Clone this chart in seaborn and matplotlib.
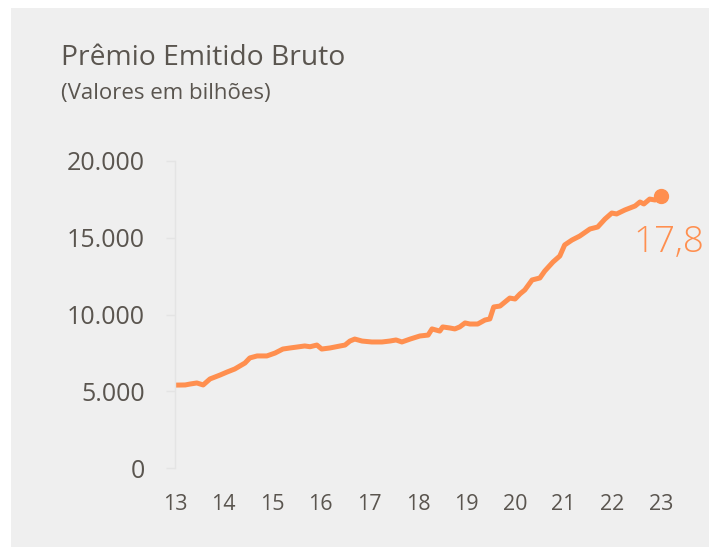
import numpy as np
import pandas as pd
import matplotlib
matplotlib.use("Agg")
import matplotlib.pyplot as plt
import seaborn as sns
from matplotlib.patches import Rectangle

# Datos (año decimal y valor)
anos = [13.00, 13.21, 13.31, 13.45, 13.58, 13.72, 13.93, 14.07, 14.23, 14.44,
        14.54, 14.69, 14.89, 15.06, 15.22, 15.37, 15.51, 15.67, 15.78, 15.92,
        16.02, 16.19, 16.40, 16.50, 16.60, 16.70, 16.85, 17.05, 17.26, 17.42,
        17.55, 17.67, 17.84, 18.04, 18.21, 18.29, 18.45, 18.51, 18.66, 18.76,
        18.86, 18.97, 19.07, 19.23, 19.38, 19.48, 19.56, 19.69, 19.89, 20.00,
        20.10, 20.20, 20.35, 20.51, 20.61, 20.78, 20.92, 21.02, 21.17, 21.33,
        21.54, 21.70, 21.85, 21.99, 22.09, 22.26, 22.47, 22.57, 22.65, 22.77,
        22.88, 23.00]
valores = [5400, 5410, 5470, 5540, 5410, 5800, 6060, 6250, 6450, 6840,
           7170, 7300, 7300, 7490, 7750, 7820, 7880, 7950, 7900, 8010,
           7750, 7820, 7950, 8010, 8270, 8400, 8270, 8210, 8210, 8270,
           8340, 8210, 8400, 8600, 8660, 9060, 8920, 9190, 9120, 9060,
           9190, 9450, 9380, 9380, 9640, 9710, 10490, 10550, 11070, 11010,
           11340, 11600, 12250, 12380, 12830, 13420, 13810, 14530, 14850, 15110,
           15570, 15700, 16220, 16610, 16550, 16810, 17070, 17330, 17200, 17520,
           17460, 17720]
ticks_x = [13, 14, 15, 16, 17, 18, 19, 20, 21, 22, 23]
ticks_y = [0, 5000, 10000, 15000, 20000]
etiquetas_y = ["0", "5.000", "10.000", "15.000", "20.000"]

df = pd.DataFrame({"ano": anos, "valor": valores})

naranja = "#ff8f4f"
gris_texto = "#5a554f"
fondo = "#efefef"

sns.set_style("white")
plt.rcParams["font.family"] = ["Open Sans", "DejaVu Sans"]

fig = plt.figure(figsize=(7.09, 5.47), dpi=100)
fig.patch.set_facecolor("white")
fig.patches.append(Rectangle((11 / 709, 0), 1, (547 - 8) / 547,
                             transform=fig.transFigure, facecolor=fondo,
                             edgecolor="none", zorder=-5))

ax = fig.add_axes([175 / 709, 79 / 547, 515 / 709, 307 / 547])
ax.set_facecolor("none")
ax.set_zorder(2)

sns.lineplot(data=df, x="ano", y="valor", color=naranja, linewidth=3.6, ax=ax,
             solid_joinstyle="round", solid_capstyle="round")
ax.plot(anos[-1], valores[-1], "o", color=naranja, markersize=10, clip_on=False)
ax.text(23.16, valores[-1] - 1800, "17,8", color=naranja, fontsize=26.5,
        fontweight="light", ha="center", va="top")

ax.set_xlim(13, 23.6)
ax.set_ylim(0, 20000)
ax.set_xticks(ticks_x)
ax.set_xticklabels([str(t) for t in ticks_x])
ax.set_yticks(ticks_y)
ax.set_yticklabels(etiquetas_y)
ax.set_xlabel("")
ax.set_ylabel("")

for lado in ["top", "right", "bottom"]:
    ax.spines[lado].set_visible(False)
ax.spines["left"].set_color("#e4e4e4")
ax.spines["left"].set_linewidth(1)

ax.tick_params(axis="y", length=6.5, width=1, color="#e4e4e4", pad=15,
               labelsize=18, labelcolor=gris_texto, left=True)
ax.tick_params(axis="x", length=0, pad=19, labelsize=15.5, labelcolor=gris_texto)

fig.text(61 / 709, 1 - 65 / 547, "Prêmio Emitido Bruto", fontsize=20.3,
         color=gris_texto, ha="left", va="baseline")
fig.text(61 / 709, 1 - 99 / 547, "(Valores em bilhões)", fontsize=16,
         color=gris_texto, ha="left", va="baseline")

fig.savefig("out.png", dpi=100, facecolor="white")
